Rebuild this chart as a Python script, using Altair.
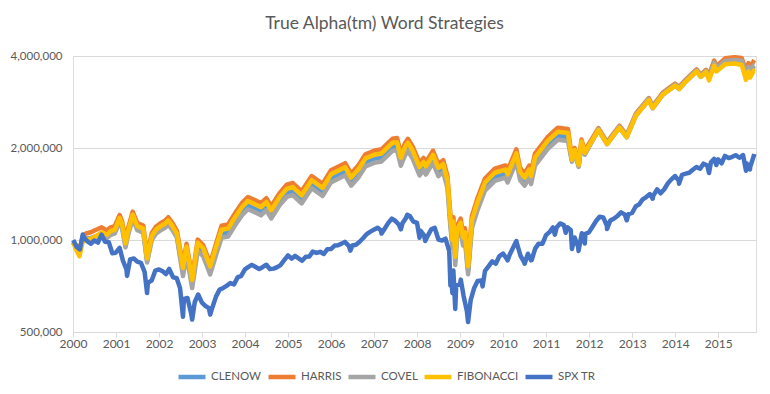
import altair as alt
import pandas as pd

# ---------------- data (values in thousands of dollars) ----------------
strat_dates = [
    "2000-01-03", "2000-01-28", "2000-02-25", "2000-03-24", "2000-04-20", "2000-06-01", "2000-07-15", "2000-09-01", "2000-10-15", "2000-11-15", "2000-12-20",
    "2001-01-31", "2001-02-20", "2001-03-22", "2001-04-10", "2001-05-22", "2001-06-30", "2001-08-20", "2001-09-21", "2001-10-31", "2001-12-05",
    "2002-01-15", "2002-02-20", "2002-03-20", "2002-04-25", "2002-06-01", "2002-07-23", "2002-08-22", "2002-10-09", "2002-11-25",
    "2003-01-10", "2003-03-11", "2003-04-30", "2003-06-15", "2003-08-10", "2003-10-10", "2003-12-05",
    "2004-01-25", "2004-03-24", "2004-05-15", "2004-06-30", "2004-08-10", "2004-10-20", "2004-12-20",
    "2005-02-10", "2005-04-25", "2005-07-20", "2005-10-20", "2005-12-31",
    "2006-04-30", "2006-06-20", "2006-08-20", "2006-10-20", "2006-12-31",
    "2007-03-05", "2007-06-05", "2007-07-15", "2007-08-16", "2007-09-20", "2007-10-15", "2007-11-25",
    "2008-01-22", "2008-02-25", "2008-03-15", "2008-05-15", "2008-06-30", "2008-08-10", "2008-09-15", "2008-10-08", "2008-10-27", "2008-11-05", "2008-11-20", "2008-12-05",
    "2009-01-05", "2009-01-25", "2009-02-10", "2009-03-09", "2009-04-10", "2009-05-25", "2009-07-30", "2009-10-22",
    "2010-01-20", "2010-02-08", "2010-04-23", "2010-05-25", "2010-07-02", "2010-08-10", "2010-08-26", "2010-09-28",
    "2011-01-15", "2011-04-10", "2011-07-05", "2011-08-08", "2011-08-31", "2011-10-04", "2011-10-28", "2011-11-25",
    "2012-03-20", "2012-06-01", "2012-09-14", "2012-11-15",
    "2013-01-31", "2013-05-21", "2013-06-24", "2013-09-18", "2013-12-31",
    "2014-02-04", "2014-04-01", "2014-07-01", "2014-08-07", "2014-09-19", "2014-10-15", "2014-11-28", "2014-12-16",
    "2015-03-01", "2015-05-20", "2015-07-20", "2015-08-25", "2015-09-15", "2015-09-28", "2015-10-30", "2015-11-03",
]

fibonacci = [
    980, 930, 885, 990, 1000, 1010, 1030, 1060, 1040, 1070, 1080,
    1180, 1130, 975, 1060, 1210, 1110, 1090, 870, 1030, 1080,
    1110, 1130, 1160, 1110, 1050, 810, 950, 740, 980,
    940, 820, 950, 1080, 1090, 1190, 1280,
    1340, 1310, 1280, 1330, 1250, 1380, 1470,
    1490, 1400, 1570, 1480, 1640,
    1730, 1600, 1700, 1850, 1900,
    1920, 2080, 2090, 1860, 2010, 2080, 1960,
    1730, 1800, 1740, 1900, 1720, 1770, 1570, 1200, 1000, 1150, 880, 1080,
    1140, 1020, 1060, 820, 1160, 1320, 1540, 1660,
    1700, 1640, 1920, 1670, 1600, 1700, 1620, 1860,
    2110, 2260, 2240, 1830, 1970, 1760, 2100, 1930,
    2290, 2060, 2330, 2170,
    2550, 2870, 2700, 2990, 3200,
    3120, 3300, 3560, 3420, 3550, 3330, 3720, 3560,
    3760, 3780, 3740, 3340, 3560, 3400, 3580, 3560,
]

harris = [
    985, 960, 930, 1030, 1050, 1060, 1080, 1100, 1075, 1100, 1110,
    1207, 1156, 997, 1084, 1238, 1136, 1115, 890, 1054, 1105,
    1136, 1156, 1187, 1136, 1074, 829, 972, 757, 1003,
    962, 839, 972, 1113, 1124, 1227, 1320,
    1382, 1351, 1320, 1371, 1289, 1423, 1516,
    1536, 1443, 1619, 1526, 1691,
    1784, 1650, 1753, 1907, 1959,
    1980, 2144, 2155, 1918, 2072, 2144, 2021,
    1784, 1856, 1794, 1959, 1773, 1825, 1619, 1237, 1031, 1186, 907, 1113,
    1175, 1052, 1093, 845, 1196, 1361, 1588, 1711,
    1753, 1691, 1980, 1722, 1650, 1753, 1670, 1918,
    2175, 2330, 2309, 1857, 2000, 1786, 2132, 1959,
    2324, 2091, 2365, 2203,
    2588, 2913, 2741, 3035, 3248,
    3167, 3350, 3613, 3471, 3603, 3460, 3865, 3699,
    3930, 3960, 3940, 3580, 3790, 3660, 3860, 3880,
]

clenow = [
    985, 945, 910, 1000, 1010, 1015, 1030, 1050, 1030, 1055, 1065,
    1162, 1113, 960, 1044, 1192, 1093, 1074, 857, 1015, 1064,
    1093, 1113, 1143, 1093, 1034, 786, 922, 718, 951,
    912, 795, 922, 1048, 1057, 1154, 1242,
    1300, 1271, 1242, 1290, 1213, 1339, 1426,
    1445, 1358, 1523, 1436, 1591,
    1678, 1552, 1649, 1795, 1843,
    1862, 2018, 2027, 1804, 1950, 2018, 1901,
    1678, 1746, 1688, 1843, 1668, 1717, 1523, 1164, 970, 1116, 854, 1048,
    1106, 989, 1028, 795, 1125, 1280, 1494, 1610,
    1649, 1591, 1862, 1620, 1552, 1649, 1571, 1804,
    2047, 2192, 2173, 1815, 1954, 1746, 2083, 1915,
    2290, 2060, 2330, 2170,
    2550, 2870, 2700, 2990, 3200,
    3120, 3300, 3560, 3420, 3550, 3380, 3776, 3613,
    3820, 3850, 3830, 3450, 3660, 3520, 3700, 3700,
]

covel = [
    980, 945, 915, 1000, 1010, 1010, 1025, 1040, 1015, 1040, 1050,
    1145, 1096, 946, 1028, 1174, 1077, 1057, 844, 999, 1048,
    1077, 1096, 1125, 1077, 1019, 762, 894, 696, 922,
    885, 772, 894, 1016, 1026, 1120, 1204,
    1261, 1233, 1204, 1252, 1176, 1299, 1383,
    1402, 1317, 1477, 1393, 1543,
    1628, 1506, 1600, 1741, 1788,
    1807, 1957, 1967, 1750, 1891, 1957, 1844,
    1628, 1694, 1637, 1788, 1619, 1666, 1477, 1129, 941, 1082, 828, 1016,
    1073, 960, 997, 772, 1092, 1242, 1449, 1562,
    1600, 1543, 1807, 1571, 1506, 1600, 1524, 1750,
    1986, 2127, 2108, 1803, 1940, 1734, 2069, 1901,
    2308, 2076, 2349, 2187,
    2570, 2893, 2722, 3014, 3226,
    3145, 3326, 3588, 3447, 3578, 3407, 3806, 3642,
    3850, 3880, 3860, 3480, 3690, 3550, 3730, 3730,
]

spx_dates = [
    "2000-01-03", "2000-01-31", "2000-02-29", "2000-03-24", "2000-03-31", "2000-04-28", "2000-05-31", "2000-06-30", "2000-07-31", "2000-08-31", "2000-09-29", "2000-10-31", "2000-11-30", "2000-12-29",
    "2001-01-31", "2001-02-28", "2001-03-30", "2001-04-04", "2001-04-30", "2001-05-31", "2001-06-29", "2001-07-31", "2001-08-31", "2001-09-21", "2001-09-28", "2001-10-31", "2001-11-30", "2001-12-31",
    "2002-01-31", "2002-02-28", "2002-03-28", "2002-04-30", "2002-05-31", "2002-06-28", "2002-07-23", "2002-07-31", "2002-08-30", "2002-09-30", "2002-10-09", "2002-10-31", "2002-11-29", "2002-12-31",
    "2003-01-31", "2003-02-28", "2003-03-11", "2003-03-31", "2003-04-30", "2003-05-30", "2003-06-30", "2003-07-31", "2003-08-29", "2003-09-30", "2003-10-31", "2003-11-28", "2003-12-31",
    "2004-01-30", "2004-02-27", "2004-03-31", "2004-04-30", "2004-05-28", "2004-06-30", "2004-07-30", "2004-08-31", "2004-09-30", "2004-10-29", "2004-11-30", "2004-12-31",
    "2005-01-31", "2005-02-28", "2005-03-31", "2005-04-29", "2005-05-31", "2005-06-30", "2005-07-29", "2005-08-31", "2005-09-30", "2005-10-31", "2005-11-30", "2005-12-30",
    "2006-01-31", "2006-02-28", "2006-03-31", "2006-04-28", "2006-05-31", "2006-06-13", "2006-06-30", "2006-07-31", "2006-08-31", "2006-09-29", "2006-10-31", "2006-11-30", "2006-12-29",
    "2007-01-31", "2007-02-28", "2007-03-05", "2007-03-30", "2007-04-30", "2007-05-31", "2007-06-29", "2007-07-31", "2007-08-16", "2007-08-31", "2007-09-28", "2007-10-09", "2007-10-31", "2007-11-30", "2007-12-31",
    "2008-01-22", "2008-01-31", "2008-02-29", "2008-03-10", "2008-03-31", "2008-04-30", "2008-05-30", "2008-06-30", "2008-07-31", "2008-08-29", "2008-09-30", "2008-10-10", "2008-10-13", "2008-10-27", "2008-10-31", "2008-11-04", "2008-11-20", "2008-11-28", "2008-12-31",
    "2009-01-06", "2009-01-30", "2009-02-27", "2009-03-09", "2009-03-31", "2009-04-30", "2009-05-29", "2009-06-30", "2009-07-10", "2009-07-31", "2009-08-31", "2009-09-30", "2009-10-30", "2009-11-30", "2009-12-31",
    "2010-01-29", "2010-02-08", "2010-02-26", "2010-03-31", "2010-04-23", "2010-04-30", "2010-05-28", "2010-06-30", "2010-07-02", "2010-07-30", "2010-08-26", "2010-08-31", "2010-09-30", "2010-10-29", "2010-11-30", "2010-12-31",
    "2011-01-31", "2011-02-28", "2011-03-16", "2011-03-31", "2011-04-29", "2011-05-31", "2011-06-16", "2011-06-30", "2011-07-29", "2011-08-08", "2011-08-31", "2011-09-30", "2011-10-03", "2011-10-31", "2011-11-25", "2011-11-30", "2011-12-30",
    "2012-01-31", "2012-02-29", "2012-03-30", "2012-04-30", "2012-05-31", "2012-06-01", "2012-06-29", "2012-07-31", "2012-08-31", "2012-09-28", "2012-10-31", "2012-11-15", "2012-11-30", "2012-12-31",
    "2013-01-31", "2013-02-28", "2013-03-28", "2013-04-30", "2013-05-31", "2013-06-24", "2013-06-28", "2013-07-31", "2013-08-30", "2013-09-30", "2013-10-31", "2013-11-29", "2013-12-31",
    "2014-01-31", "2014-02-03", "2014-02-28", "2014-03-31", "2014-04-30", "2014-05-30", "2014-06-30", "2014-07-31", "2014-08-29", "2014-09-30", "2014-10-15", "2014-10-31", "2014-11-28", "2014-12-16", "2014-12-31",
    "2015-01-30", "2015-02-27", "2015-03-31", "2015-04-30", "2015-05-29", "2015-06-30", "2015-07-31", "2015-08-25", "2015-08-31", "2015-09-28", "2015-09-30", "2015-10-30", "2015-11-03",
]

spx_tr = [
    1000, 950, 932, 1042, 1023, 993, 972, 996, 981, 1041, 987, 983, 905, 909,
    942, 856, 802, 763, 864, 870, 849, 841, 787, 671, 724, 738, 794, 801,
    790, 774, 804, 755, 750, 696, 561, 642, 646, 576, 549, 627, 663, 624,
    608, 598, 570, 604, 654, 688, 697, 709, 723, 716, 756, 762, 802,
    817, 829, 816, 804, 815, 830, 803, 806, 815, 828, 861, 890,
    869, 887, 871, 855, 882, 883, 916, 907, 915, 900, 933, 934,
    959, 961, 973, 986, 957, 923, 959, 965, 987, 1013, 1046, 1065, 1080,
    1097, 1075, 1050, 1087, 1136, 1175, 1156, 1121, 1084, 1137, 1179, 1210, 1198, 1148, 1139,
    1017, 1072, 1036, 992, 1032, 1083, 1096, 1004, 996, 1010, 920, 710, 792, 670, 765, 795, 595, 709, 716,
    742, 656, 585, 539, 636, 697, 735, 737, 705, 793, 821, 852, 836, 886, 903,
    871, 858, 897, 952, 992, 967, 889, 843, 836, 902, 858, 860, 937, 973, 972, 1037,
    1063, 1099, 1041, 1099, 1133, 1119, 1056, 1101, 1079, 935, 1019, 948, 921, 1052, 974, 1048, 1059,
    1107, 1154, 1192, 1185, 1113, 1086, 1159, 1176, 1201, 1232, 1210, 1160, 1215, 1226,
    1290, 1306, 1355, 1382, 1413, 1365, 1394, 1465, 1422, 1466, 1534, 1579, 1619,
    1564, 1529, 1634, 1648, 1660, 1698, 1733, 1710, 1777, 1752, 1656, 1795, 1842, 1759, 1837,
    1783, 1884, 1854, 1872, 1895, 1858, 1897, 1686, 1781, 1702, 1737, 1884, 1913,
]

series_names = ["CLENOW", "HARRIS", "COVEL", "FIBONACCI", "SPX TR"]
series_colors = ["#5B9BD5", "#ED7D31", "#A5A5A5", "#FFC000", "#4472C4"]
y_ticks = [500000, 1000000, 2000000, 4000000]
year_ticks = list(range(2000, 2016))

for lst in (fibonacci, harris, clenow, covel):
    assert len(lst) == len(strat_dates), len(lst)
assert len(spx_tr) == len(spx_dates), (len(spx_tr), len(spx_dates))

rows = []
for name, vals in zip(series_names[:4], [clenow, harris, covel, fibonacci]):
    for d, v in zip(strat_dates, vals):
        rows.append({"date": d, "series": name, "value": v * 1000})
for d, v in zip(spx_dates, spx_tr):
    rows.append({"date": d, "series": "SPX TR", "value": v * 1000})
df = pd.DataFrame(rows)

FONT = "Lato"
TXT = "#595959"
GRID = "#d9d9d9"

x_enc = alt.X(
    "date:T",
    scale=alt.Scale(type="utc", domain=[alt.DateTime(year=2000, month=1, date=1, utc=True),
                                        alt.DateTime(year=2015, month=11, date=18, utc=True)]),
    axis=alt.Axis(
        values=[alt.DateTime(year=y, month=1, date=1, utc=True) for y in year_ticks],
        format="%Y", grid=False, domainColor=GRID, tickColor=GRID, tickSize=5,
        labelColor=TXT, labelFont=FONT, labelFontSize=12, labelPadding=1,
        labelFlush=False, labelOverlap=False, title=None,
    ),
)
y_enc = alt.Y(
    "value:Q",
    scale=alt.Scale(type="log", domain=[500000, 4000000]),
    axis=alt.Axis(
        values=y_ticks, format=",.0f", grid=True, gridColor=GRID, domain=False, ticks=False,
        labelColor=TXT, labelFont=FONT, labelFontSize=11.5, labelPadding=11, title=None,
    ),
)
color_enc = alt.Color(
    "series:N",
    scale=alt.Scale(domain=series_names, range=series_colors),
    legend=alt.Legend(
        orient="none", legendX=103, legendY=305, direction="horizontal",
        symbolType="stroke", symbolSize=729, symbolStrokeWidth=4.5,
        labelFont=FONT, labelFontSize=11.5, labelColor=TXT, labelOffset=3,
        columnPadding=-3, padding=0, gridAlign="none", title=None,
    ),
)

layers = [
    alt.Chart(df)
    .transform_filter(alt.datum.series == name)
    .mark_line(strokeWidth=4.5, strokeJoin="round")
    .encode(x=x_enc, y=y_enc, color=color_enc)
    for name in series_names
]

chart = (
    alt.layer(*layers)
    .properties(
        width=683,
        height=276,
        autosize="none",
        padding={"left": 65, "top": 48, "right": 6, "bottom": 54},
        title=alt.TitleParams(
            "True Alpha(tm) Word Strategies", font=FONT, fontSize=17.5, fontWeight="normal",
            color=TXT, anchor="middle", frame="group", dx=-30, offset=18,
        ),
    )
    .configure_view(stroke=None)
    .configure(background="white")
)

chart.save("out.html", embed_options={"renderer": "svg", "actions": False})
